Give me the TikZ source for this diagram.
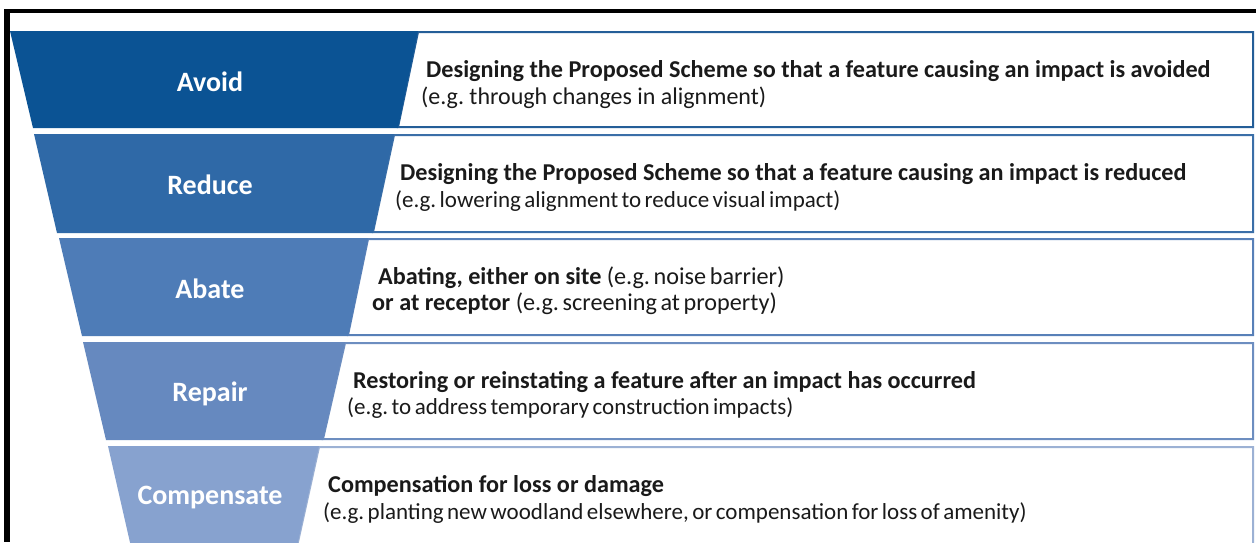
\documentclass[tikz,border=0pt]{standalone}
\usepackage{fontspec}
\setmainfont{Carlito}
\definecolor{cA}{HTML}{0B5394}
\definecolor{cB}{HTML}{2F69A7}
\definecolor{cC}{HTML}{4E7CB7}
\definecolor{cD}{HTML}{6689BF}
\definecolor{cE}{HTML}{87A2CF}
\definecolor{oA}{HTML}{245E98}
\definecolor{oB}{HTML}{3B6FA8}
\definecolor{oC}{HTML}{5880B8}
\definecolor{oD}{HTML}{6D8EC0}
\definecolor{oE}{HTML}{9CB1D4}
\definecolor{ink}{HTML}{1A1A1A}
\newcommand\tightsp{\spaceskip=0.15em plus 0.05em\relax}
\frenchspacing
\begin{document}
\frenchspacing
\begin{tikzpicture}[x=1pt,y={(0pt,-1pt)},
  lbl/.style={text=white,font=\fontsize{28}{30}\selectfont\bfseries,anchor=base,inner sep=0pt},
  hd/.style={text=ink,font=\fontsize{24.2}{26}\selectfont\bfseries,anchor=base west,inner sep=0pt},
  sub/.style={text=ink,font=\fontsize{23}{26}\selectfont\tightsp,anchor=base west,inner sep=0pt},
  boxline/.style={line width=2pt,fill=white}]
\useasboundingbox (0,0) rectangle (1256,542);
\clip (0,0) rectangle (1256,542);
\fill[white] (0,0) rectangle (1256,542);
% frame
\fill[black] (4,9) rectangle (1256,13);
\fill[black] (4,9) rectangle (10,542);
% row 1
\draw[boxline,draw=oA] (418,32) -- (1253,32) -- (1253,127) -- (398,127) -- cycle;
\fill[cA] (10,31) -- (418,31) -- (398,128) -- (33,128) -- cycle;
% row 2
\draw[boxline,draw=oB] (394,135) -- (1253,135) -- (1253,232) -- (373,232) -- cycle;
\fill[cB] (34,134) -- (394,134) -- (373,233) -- (57,233) -- cycle;
% row 3
\draw[boxline,draw=oC] (368,239) -- (1253,239) -- (1253,335) -- (348,335) -- cycle;
\fill[cC] (59,238) -- (368,238) -- (348,336) -- (82,336) -- cycle;
% row 4
\draw[boxline,draw=oD] (345,343) -- (1253,343) -- (1253,439) -- (323,439) -- cycle;
\fill[cD] (83,342) -- (345,342) -- (323,440) -- (106,440) -- cycle;
% row 5
\draw[boxline,draw=oE] (319,447) -- (1253,447) -- (1253,560) -- (294,560) -- cycle;
\fill[cE] (108,446) -- (319,446) -- (294,560) -- (134,560) -- cycle;
% labels
\node[lbl] (lA) at (210,91) {Avoid};
\node[lbl] (lB) at (210,194) {Reduce};
\node[lbl] (lC) at (210,298) {Abate};
\node[lbl] (lD) at (210,401) {Repair};
\node[lbl] (lE) at (210,504) {Compensate};
% texts
\node[hd] (tA1) at (426,77) {Designing the Proposed Scheme so that a feature causing an impact is avoided};
\node[sub,font=\fontsize{24}{26}\selectfont] (tA2) at (421,104) {(e.g. through changes in alignment)};
\node[hd] (tB1) at (400,180) {Designing the Proposed Scheme so that a feature causing an impact is reduced};
\node[sub] (tB2) at (395,207) {(e.g. lowering alignment to reduce visual impact)};
\node[hd] (tC1) at (378,284) {Abating, either on site {\mdseries\tightsp(e.g. noise barrier)}};
\node[hd] (tC2) at (372,310) {or at receptor {\mdseries\tightsp(e.g. screening at property)}};
\node[hd] (tD1) at (353,388) {Restoring or reinstating a feature after an impact has occurred};
\node[sub] (tD2) at (347,414) {(e.g. to address temporary construction impacts)};
\node[hd] (tE1) at (328,492) {Compensation for loss or damage};
\node[sub] (tE2) at (323,519) {(e.g. planting new woodland elsewhere, or compensation for loss of amenity)};
\end{tikzpicture}
\end{document}
